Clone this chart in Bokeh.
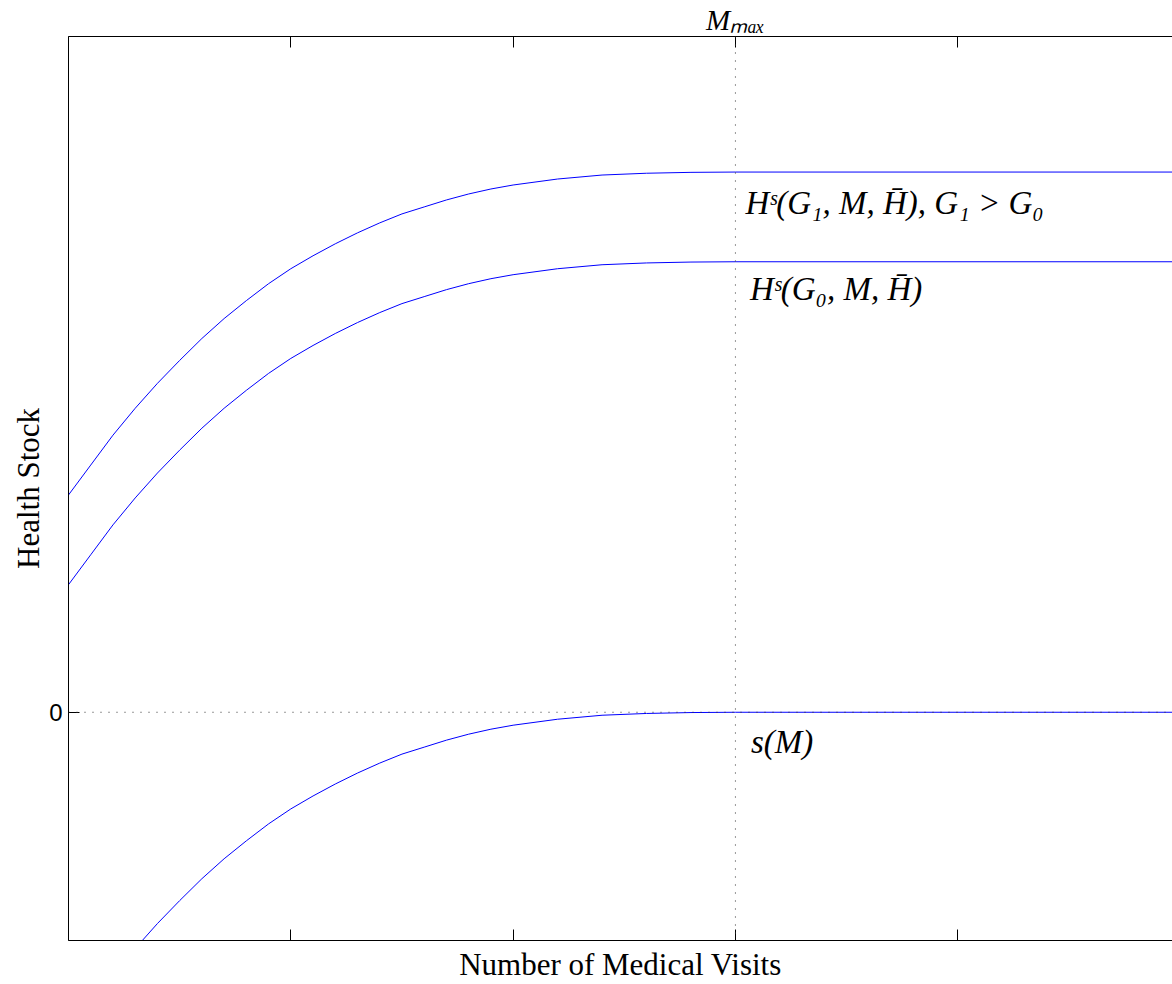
from bokeh.plotting import figure
from bokeh.models import Range1d, LinearAxis, FixedTicker, Label, Span
from bokeh.embed import file_html
from bokeh.resources import INLINE

# ---- data ----
M = [0.0, 0.1, 0.2, 0.3, 0.4, 0.5, 0.6, 0.7, 0.8, 0.9, 1.0, 1.1, 1.2, 1.3, 1.4,
     1.5, 1.6, 1.7, 1.8, 1.9, 2.0, 2.2, 2.4, 2.6, 2.8, 3.0, 5.0]
H_G1 = [2.18, 2.48, 2.78, 3.05, 3.30, 3.53, 3.75, 3.95, 4.13, 4.30, 4.45, 4.58, 4.70, 4.81, 4.91,
        5.00, 5.07, 5.14, 5.20, 5.25, 5.29, 5.35, 5.39, 5.408, 5.417, 5.42, 5.42]
H_G0 = [1.28, 1.58, 1.88, 2.15, 2.40, 2.63, 2.85, 3.05, 3.23, 3.40, 3.55, 3.68, 3.80, 3.91, 4.01,
        4.10, 4.17, 4.24, 4.30, 4.35, 4.39, 4.45, 4.49, 4.508, 4.517, 4.52, 4.52]
S_M = [-3.24, -2.94, -2.64, -2.37, -2.12, -1.89, -1.67, -1.47, -1.29, -1.12, -0.97, -0.84, -0.72, -0.61, -0.51,
       -0.42, -0.35, -0.28, -0.22, -0.17, -0.13, -0.07, -0.03, -0.012, -0.003, 0.0, 0.0]
M_MAX = 3.0
x_ticks = [0, 1, 2, 3, 4, 5]
top_tick_labels = {0: "", 1: "", 2: "", 3: "Mₘₐₓ", 4: "", 5: ""}
bottom_tick_labels = {0: "", 1: "", 2: "", 3: "", 4: "", 5: ""}
y_ticks = [0]
y_tick_labels = {0: "0"}
x_title = "Number of Medical Visits"
y_title = "Health Stock"
label_g1 = "Hˢ(G₁, M, H̄), G₁ > G₀"
label_g0 = "Hˢ(G₀, M, H̄)"
label_s = "s(M)"

SERIF = "Liberation Serif"

p = figure(width=1172, height=984,
           x_range=Range1d(0, 4.966), y_range=Range1d(-2.29, 6.78),
           output_backend="svg", toolbar_location=None,
           min_border_left=68, min_border_right=0, min_border_top=35, min_border_bottom=42)
p.outline_line_color = None
p.xgrid.visible = False
p.ygrid.visible = False
p.background_fill_color = "white"
p.border_fill_color = "white"

# bottom axis
xa = p.xaxis[0]
xa.ticker = FixedTicker(ticks=x_ticks)
xa.major_label_overrides = bottom_tick_labels
xa.major_label_standoff = 0
xa.major_tick_in = 11
xa.major_tick_out = 0
xa.minor_tick_line_color = None
xa.axis_line_color = "black"
xa.axis_label = x_title
xa.axis_label_text_font = SERIF
xa.axis_label_text_font_style = "normal"
xa.axis_label_text_font_size = "31px"
xa.axis_label_text_color = "black"
xa.axis_label_standoff = 6

# left axis
ya = p.yaxis[0]
ya.ticker = FixedTicker(ticks=y_ticks)
ya.major_label_overrides = y_tick_labels
ya.major_label_text_font = "Liberation Sans"
ya.major_label_text_font_size = "24px"
ya.major_label_text_color = "black"
ya.major_label_standoff = 6
ya.major_tick_in = 11
ya.major_tick_out = 0
ya.minor_tick_line_color = None
ya.axis_line_color = "black"
ya.axis_label = y_title
ya.axis_label_text_font = SERIF
ya.axis_label_text_font_style = "normal"
ya.axis_label_text_font_size = "31px"
ya.axis_label_text_color = "black"
ya.axis_label_standoff = 0

# top axis (ticks, with the M_max label)
ta = LinearAxis(ticker=FixedTicker(ticks=x_ticks), major_label_overrides=top_tick_labels,
                major_label_text_font=SERIF, major_label_text_font_style="italic",
                major_label_text_font_size="29px", major_label_text_color="black",
                major_label_standoff=1, major_tick_in=11, major_tick_out=0,
                minor_tick_line_color=None, axis_line_color="black")
p.add_layout(ta, "above")

# dotted guides
p.add_layout(Span(location=M_MAX, dimension="height", line_color="#333333",
                  line_width=1, line_dash="1 7"))
p.add_layout(Span(location=0, dimension="width", line_color="#333333",
                  line_width=1, line_dash="1 7"))

# curves
for ys in (H_G1, H_G0, S_M):
    p.line(M, ys, line_color="#0000ff", line_width=1)

def add_label(x, y, text, size, style="italic", align="left"):
    p.add_layout(Label(x=x, y=y, text=text, text_font=SERIF, text_font_style=style,
                       text_font_size=size, text_baseline="alphabetic", text_align=align,
                       text_color="black"))

add_label(3.045, 5.11, label_g1, "33px")
add_label(3.065, 4.25, label_g0, "33px")
add_label(3.07, -0.30, label_s, "33px")

open("out.html", "w").write(file_html(p, INLINE))
